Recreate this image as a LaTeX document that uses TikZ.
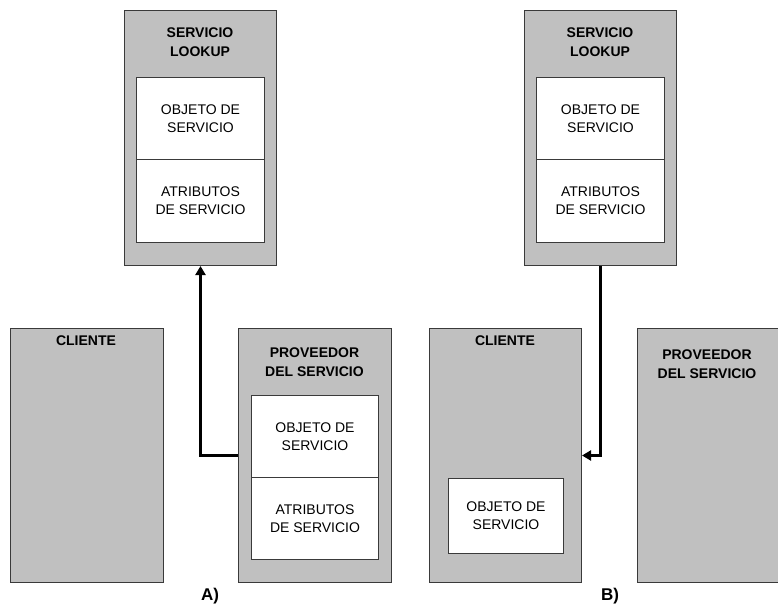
\documentclass[tikz,border=0pt]{standalone}
\usepackage{fontspec}
\setmainfont{Liberation Sans}
\usetikzlibrary{arrows.meta}

\definecolor{panelgray}{HTML}{C0C0C0}
\definecolor{edgegray}{HTML}{3A3A3A}

\tikzset{
  panel/.style={draw=edgegray, line width=1pt, fill=panelgray, rectangle,
    anchor=north west, inner sep=0pt},
  slot/.style={draw=edgegray, line width=1pt, fill=white, rectangle,
    anchor=north west, inner sep=0pt, align=center,
    font=\fontsize{14}{18}\selectfont},
  heading/.style={align=center, inner sep=0pt,
    font=\fontsize{14}{19}\selectfont\bfseries},
  tag/.style={inner sep=0pt, font=\fontsize{17}{20}\selectfont\bfseries},
  conn/.style={line width=3pt, -{Triangle[length=9pt,width=10pt]}}
}

\begin{document}
\begin{tikzpicture}[x=1pt,y=-1pt]
  \useasboundingbox (0,0) rectangle (778,604);

  % ---------- A) ----------
  \node[panel, minimum width=152pt, minimum height=255pt] (lookA) at (124,10) {};
  \node[heading] (lookAt) at (200,42.5) {SERVICIO\\LOOKUP};
  \node[slot, minimum width=128pt, minimum height=82pt] (lookAobj) at (136,77) {OBJETO DE\\SERVICIO};
  \node[slot, minimum width=128pt, minimum height=83pt] (lookAatr) at (136,159) {ATRIBUTOS\\DE SERVICIO};

  \node[panel, minimum width=153pt, minimum height=254pt] (cliA) at (9.5,328) {};
  \node[heading] (cliAt) at (86,341) {CLIENTE};

  \node[panel, minimum width=153pt, minimum height=254pt] (provA) at (238,328) {};
  \node[heading] (provAt) at (314.5,362) {PROVEEDOR\\DEL SERVICIO};
  \node[slot, minimum width=127pt, minimum height=82pt] (provAobj) at (251,395) {OBJETO DE\\SERVICIO};
  \node[slot, minimum width=127pt, minimum height=82pt] (provAatr) at (251,477) {ATRIBUTOS\\DE SERVICIO};

  \draw[conn] (provA.west) -| (lookA.south);

  \node[tag] (labA) at (210,596) {A)};

  % ---------- B) ----------
  \node[panel, minimum width=152pt, minimum height=255pt] (lookB) at (524,10) {};
  \node[heading] (lookBt) at (600,42.5) {SERVICIO\\LOOKUP};
  \node[slot, minimum width=128pt, minimum height=82pt] (lookBobj) at (536,77) {OBJETO DE\\SERVICIO};
  \node[slot, minimum width=128pt, minimum height=83pt] (lookBatr) at (536,159) {ATRIBUTOS\\DE SERVICIO};

  \node[panel, minimum width=152pt, minimum height=254pt] (cliB) at (429,328) {};
  \node[heading] (cliBt) at (505,341) {CLIENTE};
  \node[slot, minimum width=115pt, minimum height=75pt] (cliBobj) at (448,478) {OBJETO DE\\SERVICIO};

  \node[panel, minimum width=142pt, minimum height=254pt] (provB) at (637,328) {};
  \node[heading] (provBt) at (707,364) {PROVEEDOR\\DEL SERVICIO};

  \draw[conn] (lookB.south) |- (cliB.east);

  \node[tag] (labB) at (610,596) {B)};
\end{tikzpicture}
\end{document}
